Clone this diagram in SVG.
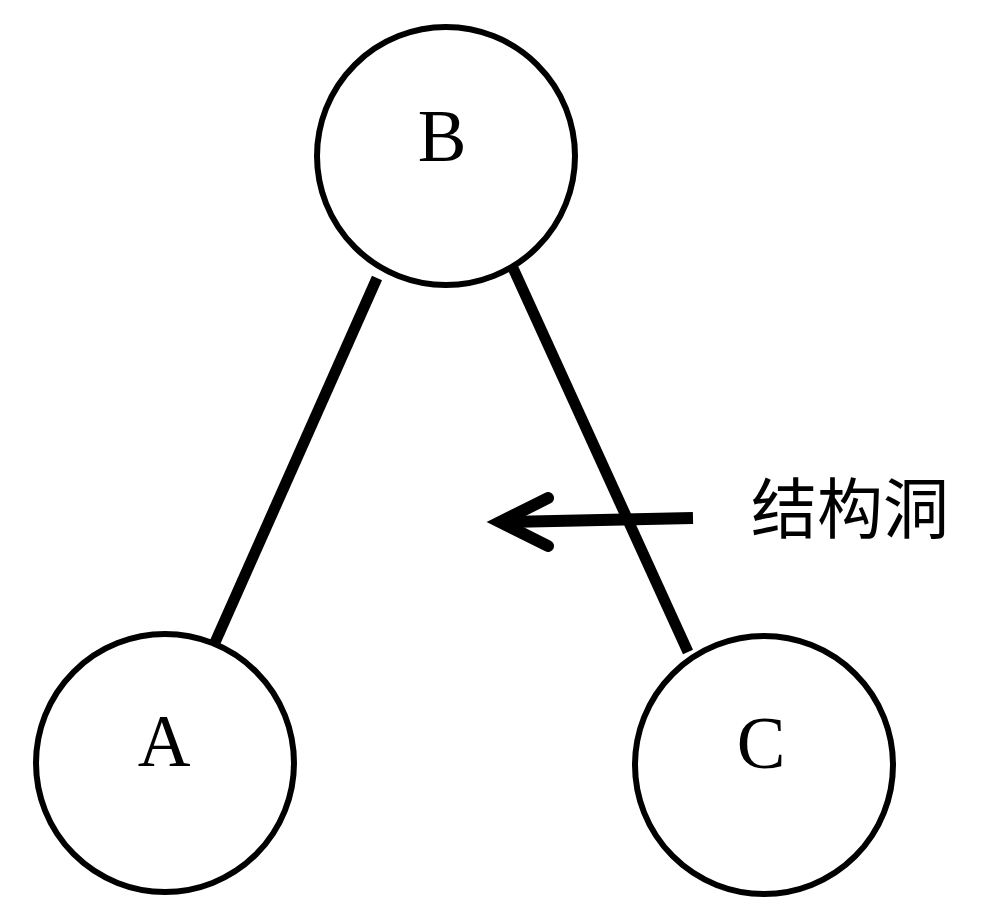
<svg xmlns="http://www.w3.org/2000/svg" width="984" height="924" viewBox="0 0 984 924">
<style>
.node circle{fill:#fff;stroke:#000;stroke-width:6}
.node text{font-family:"Liberation Serif","Times New Roman",serif;font-size:73px;text-anchor:middle;fill:#000}
.edge{stroke:#000;stroke-width:11;fill:none}
.arrow{stroke:#000;stroke-width:12;fill:none}
.lbl{font-family:"Noto Sans CJK SC",sans-serif;font-size:66px;fill:#000}
</style>
<rect width="984" height="924" fill="#fff"/>
<g id="connectors">
<line class="edge" x1="377" y1="278" x2="213" y2="647"/>
<line class="edge" x1="513" y1="268" x2="688" y2="652"/>
<line class="arrow" x1="693" y1="518" x2="505" y2="522"/>
<polyline class="arrow" points="548,498 500,522 548,546" stroke-linecap="round" stroke-linejoin="miter"/>
</g>
<g id="B" class="node"><circle cx="446" cy="156" r="129"/><text x="442" y="161">B</text></g>
<g id="A" class="node"><circle cx="165" cy="763" r="129"/><text x="164" y="766">A</text></g>
<g id="C" class="node"><circle cx="764" cy="765" r="129"/><text x="761" y="768">C</text></g>
<g id="label"><text class="lbl" x="751" y="533">结构洞</text></g>
</svg>
